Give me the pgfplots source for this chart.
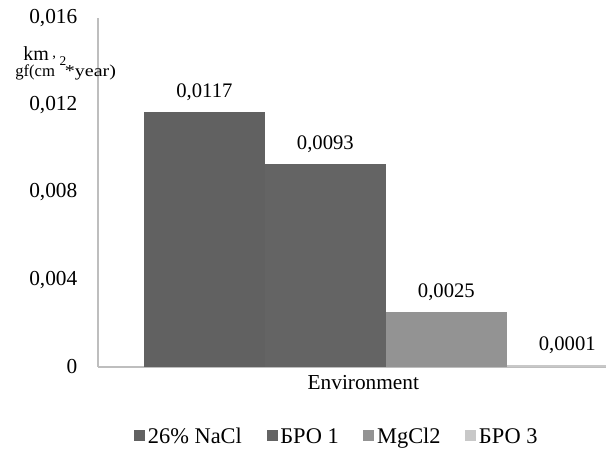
\documentclass[border=0pt]{standalone}
\usepackage{pgfplots}
\pgfplotsset{compat=1.18}
\usepackage{fontspec}
\setmainfont{Liberation Serif}
\definecolor{barA}{RGB}{97,97,97}
\definecolor{barB}{RGB}{100,100,100}
\definecolor{barC}{RGB}{147,147,147}
\definecolor{barD}{RGB}{200,200,200}
\definecolor{axgray}{RGB}{190,190,190}
\begin{document}
\begin{tikzpicture}
\path[use as bounding box] (-73.5pt,-63.75pt) rectangle (381pt,275.25pt);
\begin{axis}[
  at={(0pt,0pt)}, anchor=south west,
  scale only axis, width=381pt, height=261.75pt,
  xmin=-0.88, xmax=3.32, ymin=0, ymax=0.016,
  axis x line*=bottom, axis y line*=left,
  axis line style={draw=axgray, line width=0.8pt},
  xtick=\empty,
  scaled y ticks=false,
  ytick={0,0.004,0.008,0.012,0.016},
  yticklabels={0,{0,004},{0,008},{0,012},{0,016}},
  ytick style={draw=none},
  yticklabel style={anchor=east, xshift=-12pt, font=\fontsize{16}{18}\selectfont},
  ybar, bar shift=0pt, bar width=90.75pt,
  nodes near coords, point meta=explicit symbolic,
  nodes near coords style={font=\fontsize{15.5}{18}\selectfont, anchor=south, yshift=5pt},
  legend columns=4,
  legend style={draw=none, at={(0.471,-0.2)}, anchor=center,
    font=\fontsize{16.8}{19}\selectfont,
    /tikz/every even column/.append style={column sep=16.5pt}},
  legend image code/.code={\fill[#1] (0pt,-3.3pt) rectangle (8.25pt,4.95pt);},
]
\addplot[fill=barA, draw=none] coordinates {(0,0.0117) [{0,0117}]};
\addlegendentry{26\% NaCl}
\addplot[fill=barB, draw=none] coordinates {(1,0.0093) [{0,0093}]};
\addlegendentry{БРО 1}
\addplot[fill=barC, draw=none] coordinates {(2,0.0025) [{0,0025}]};
\addlegendentry{MgCl2}
\addplot[fill=barD, draw=none] coordinates {(3,0.0001) [{0,0001}]};
\addlegendentry{БРО 3}
\end{axis}
\node[font=\fontsize{16}{18}\selectfont] at (199pt,-12pt) {Environment};
% y-axis label
\node[font=\fontsize{15}{17}\selectfont, anchor=base west, inner sep=0pt] at (-56.25pt,229.7pt) {km};
\node[font=\fontsize{11}{12}\selectfont, anchor=base west, inner sep=0pt] at (-34.5pt,232pt) {,};
\node[font=\fontsize{12.5}{14}\selectfont, anchor=base west, inner sep=0pt] at (-62.25pt,217.5pt) {gf(cm};
\node[font=\fontsize{10}{11}\selectfont, anchor=base west, inner sep=0pt] at (-29pt,226pt) {2};
\node[font=\fontsize{12.5}{14}\selectfont, anchor=base west, inner sep=0pt] at (-25pt,217.5pt) {\scalebox{1.2}[1]{*year)}};
\end{tikzpicture}
\end{document}
